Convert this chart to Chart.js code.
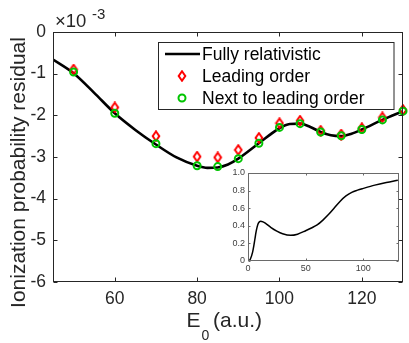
<!DOCTYPE html>
<html><head><meta charset="utf-8">
<script src="https://cdn.jsdelivr.net/npm/chart.js@4.4.1/dist/chart.umd.min.js"></script>
<style>
html,body{margin:0;padding:0;background:#fff;}
#wrap{position:relative;width:409px;height:343px;overflow:hidden;}
#main{position:absolute;left:0;top:0;}
#inset{position:absolute;left:226px;top:164px;}
</style></head><body>
<div id="wrap"><canvas id="main" width="409" height="343"></canvas><canvas id="inset" width="177" height="116"></canvas></div>
<script>
// ---- data ----
const energies = [50,60,70,80,85,90,95,100,105,110,115,120,125,130];
const leadingOrder = [-0.90,-1.81,-2.50,-2.99,-3.01,-2.83,-2.54,-2.19,-2.13,-2.37,-2.46,-2.31,-2.05,-1.87];
const nextToLeading = [-0.96,-1.95,-2.68,-3.21,-3.23,-3.04,-2.67,-2.29,-2.20,-2.40,-2.49,-2.34,-2.11,-1.90];
const curveE = [45,50,55,60,65,70,75,80,82.5,85,87.5,90,95,100,102.5,105,107.5,110,112.5,115,117.5,120,125,130];
const curveResidual = [-0.66,-0.99,-1.46,-1.95,-2.35,-2.70,-3.01,-3.21,-3.26,-3.25,-3.18,-3.04,-2.67,-2.31,-2.21,-2.20,-2.28,-2.40,-2.48,-2.50,-2.44,-2.34,-2.11,-1.90];
const insetE = [0.5,2,4,5,6,7,8,9,11,13,15,20,25,30,37,43,50,55,60,65,70,75,80,85,90,95,100,110,120,130];
const insetProb = [0,0.02,0.10,0.17,0.25,0.33,0.39,0.43,0.452,0.445,0.43,0.38,0.34,0.31,0.292,0.305,0.344,0.375,0.41,0.465,0.53,0.605,0.68,0.74,0.78,0.805,0.825,0.862,0.892,0.918];
const xTicks = [60,80,100,120];
const yTicks = [0,-1,-2,-3,-4,-5,-6];
const insetXTicks = [0,50,100];
const insetYTicks = [0,0.2,0.4,0.6,0.8,1];
const seriesLabels = ['Fully relativistic','Leading order','Next to leading order'];

const FONT = '"Liberation Sans", Arial, Helvetica, sans-serif';
const AX = '#262626';
const RED = '#ff0000';
const GREEN = '#00c400';

function diamondCanvas(){
  const c = document.createElement('canvas'); c.width = 10; c.height = 12;
  const g = c.getContext('2d');
  g.strokeStyle = RED; g.lineWidth = 2;
  g.beginPath(); g.moveTo(5,1.3); g.lineTo(8.3,6); g.lineTo(5,10.7); g.lineTo(1.7,6); g.closePath(); g.stroke();
  return c;
}
const diamond = diamondCanvas();

const pts = (xs, ys) => xs.map((x,i)=>({x, y: ys[i]}));

const mainDecor = {
  id: 'mainDecor',
  afterDatasetsDraw(chart){
    const {ctx, chartArea: a, scales: {x, y}} = chart;
    ctx.save();
    ctx.strokeStyle = AX; ctx.lineWidth = 1;
    const L = Math.round(a.left)+0.5, R = Math.round(a.right)-0.5, T = Math.round(a.top)+0.5, B = Math.round(a.bottom)-0.5;
    ctx.strokeRect(L, T, R-L, B-T);
    ctx.beginPath();
    xTicks.forEach(v=>{ const p = Math.round(x.getPixelForValue(v))+0.5; ctx.moveTo(p,B); ctx.lineTo(p,B-4); ctx.moveTo(p,T); ctx.lineTo(p,T+4); });
    yTicks.forEach(v=>{ const p = Math.round(y.getPixelForValue(v))+0.5; ctx.moveTo(L,p); ctx.lineTo(L+4,p); ctx.moveTo(R,p); ctx.lineTo(R-4,p); });
    ctx.stroke();
    // legend
    const lx = 158.5, ly = 42.5, lw = 235.5, lh = 67;
    ctx.fillStyle = '#fff'; ctx.fillRect(lx, ly, lw, lh);
    ctx.strokeStyle = AX; ctx.strokeRect(lx, ly, lw, lh);
    ctx.font = '17.5px ' + FONT; ctx.fillStyle = '#000'; ctx.textBaseline = 'middle'; ctx.textAlign = 'left';
    const rows = [54, 76, 98];
    ctx.strokeStyle = '#000'; ctx.lineWidth = 2.5;
    ctx.beginPath(); ctx.moveTo(165, rows[0]); ctx.lineTo(200, rows[0]); ctx.stroke();
    ctx.drawImage(diamond, 182-5, rows[1]-6);
    ctx.strokeStyle = GREEN; ctx.lineWidth = 2;
    ctx.beginPath(); ctx.arc(182, rows[2], 3.5, 0, Math.PI*2); ctx.stroke();
    seriesLabels.forEach((t,i)=>ctx.fillText(t, 202, rows[i]+1));
    // axis titles
    ctx.fillStyle = AX;
    ctx.font = '21px ' + FONT; ctx.textBaseline = 'alphabetic';
    ctx.save(); ctx.translate(25, 172.5); ctx.rotate(-Math.PI/2); ctx.textAlign = 'center';
    ctx.fillText('Ionization probability residual', 0, 0); ctx.restore();
    ctx.textAlign = 'left';
    ctx.fillText('E', 186.5, 327);
    ctx.font = '14px ' + FONT; ctx.fillText('0', 201.5, 340);
    ctx.font = '21px ' + FONT; ctx.fillText('(a.u.)', 213, 327);
    // exponent
    ctx.font = '18.5px ' + FONT; ctx.fillText('\u00d710', 55, 27);
    ctx.font = '15px ' + FONT; ctx.fillText('-3', 92, 19);
    ctx.restore();
  }
};

new Chart(document.getElementById('main'), {
  type: 'line',
  data: { datasets: [
    { label: seriesLabels[2], data: pts(energies, nextToLeading), showLine: false, pointStyle: 'circle', pointRadius: 3.5, pointBorderWidth: 2, pointBorderColor: GREEN, pointBackgroundColor: 'rgba(0,0,0,0)', order: 0, clip: false },
    { label: seriesLabels[1], data: pts(energies, leadingOrder), showLine: false, pointStyle: diamond, pointRadius: 5, order: 1, clip: false },
    { label: seriesLabels[0], data: pts(curveE, curveResidual), borderColor: '#000', borderWidth: 2.6, pointRadius: 0, cubicInterpolationMode: 'monotone', order: 2 }
  ]},
  options: {
    responsive: false, animation: false, devicePixelRatio: 1,
    layout: { padding: { top: 32, right: 6, left: 0, bottom: 0 } },
    plugins: { legend: { display: false }, tooltip: { enabled: false } },
    scales: {
      x: { type: 'linear', min: 45, max: 130,
        afterBuildTicks: s => { s.ticks = xTicks.map(v=>({value:v})); },
        afterFit: s => { s.height = 61; },
        grid: { display: false, drawTicks: false }, border: { display: false },
        ticks: { padding: 7, color: AX, font: { family: FONT, size: 17.5 }, maxRotation: 0 } },
      y: { type: 'linear', min: -6, max: 0,
        afterBuildTicks: s => { s.ticks = yTicks.map(v=>({value:v})); },
        afterFit: s => { s.width = 53; },
        grid: { display: false, drawTicks: false }, border: { display: false },
        ticks: { padding: 7, color: AX, font: { family: FONT, size: 17.5 } } }
    }
  },
  plugins: [mainDecor]
});

const insetDecor = {
  id: 'insetDecor',
  afterDatasetsDraw(chart){
    const {ctx, chartArea: a, scales: {x, y}} = chart;
    ctx.save();
    ctx.strokeStyle = '#6a6a6a'; ctx.lineWidth = 1;
    const L = Math.round(a.left)+0.5, R = Math.round(a.right)-0.5, T = Math.round(a.top)+0.5, B = Math.round(a.bottom)-0.5;
    ctx.strokeRect(L, T, R-L, B-T);
    ctx.beginPath();
    insetXTicks.forEach(v=>{ const p = Math.round(x.getPixelForValue(v))+0.5; ctx.moveTo(p,B); ctx.lineTo(p,B-2); ctx.moveTo(p,T); ctx.lineTo(p,T+2); });
    insetYTicks.forEach(v=>{ const p = Math.round(y.getPixelForValue(v))+0.5; ctx.moveTo(L,p); ctx.lineTo(L+2,p); ctx.moveTo(R,p); ctx.lineTo(R-2,p); });
    ctx.stroke();
    ctx.restore();
  }
};

new Chart(document.getElementById('inset'), {
  type: 'line',
  data: { datasets: [
    { data: pts(insetE, insetProb), borderColor: '#000', borderWidth: 1.5, pointRadius: 0, cubicInterpolationMode: 'monotone' }
  ]},
  options: {
    responsive: false, animation: false, devicePixelRatio: 1,
    layout: { padding: { top: 9, right: 4, left: 0, bottom: 0 } },
    plugins: { legend: { display: false }, tooltip: { enabled: false } },
    scales: {
      x: { type: 'linear', min: 0, max: 131,
        afterBuildTicks: s => { s.ticks = insetXTicks.map(v=>({value:v})); },
        afterFit: s => { s.height = 19; },
        grid: { display: false, drawTicks: false }, border: { display: false },
        ticks: { padding: 2, color: '#404040', font: { family: FONT, size: 9 }, maxRotation: 0 } },
      y: { type: 'linear', min: 0, max: 1,
        afterBuildTicks: s => { s.ticks = insetYTicks.map(v=>({value:v})); },
        afterFit: s => { s.width = 22; },
        grid: { display: false, drawTicks: false }, border: { display: false },
        ticks: { padding: 3, color: '#404040', font: { family: FONT, size: 9 } } }
    }
  },
  plugins: [insetDecor]
});
</script>
</body></html>
